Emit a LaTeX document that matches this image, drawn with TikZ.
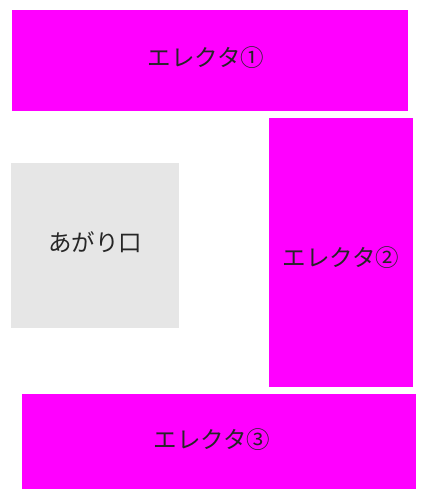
\documentclass[tikz,border=0pt]{standalone}
\usepackage{fontspec}
\newfontfamily\jp{Noto Sans CJK JP}
\definecolor{mag}{HTML}{FF00FF}
\definecolor{lgray}{HTML}{E6E6E6}
\begin{document}
\begin{tikzpicture}[x=1pt,y=-1pt,
  shelf/.style={fill=mag,draw=none},
  entry/.style={fill=lgray,draw=none},
  lbl/.style={font=\jp\fontsize{23.5}{23.5}\selectfont,text=black!85}]
\useasboundingbox (0,0) rectangle (432,500);
\fill[white] (0,0) rectangle (432,500);
\path[shelf] (12,10) rectangle (408,111);
\path[shelf] (269,118) rectangle (413,387);
\path[shelf] (22,394) rectangle (416,489);
\path[entry] (11,163) rectangle (179,328);
\node[lbl] (e1) at (206,58) {エレクタ①};
\node[lbl] (e2) at (341,258) {エレクタ②};
\node[lbl] (e3) at (212,440) {エレクタ③};
\node[lbl] (ag) at (95,242) {あがり口};
\end{tikzpicture}
\end{document}
